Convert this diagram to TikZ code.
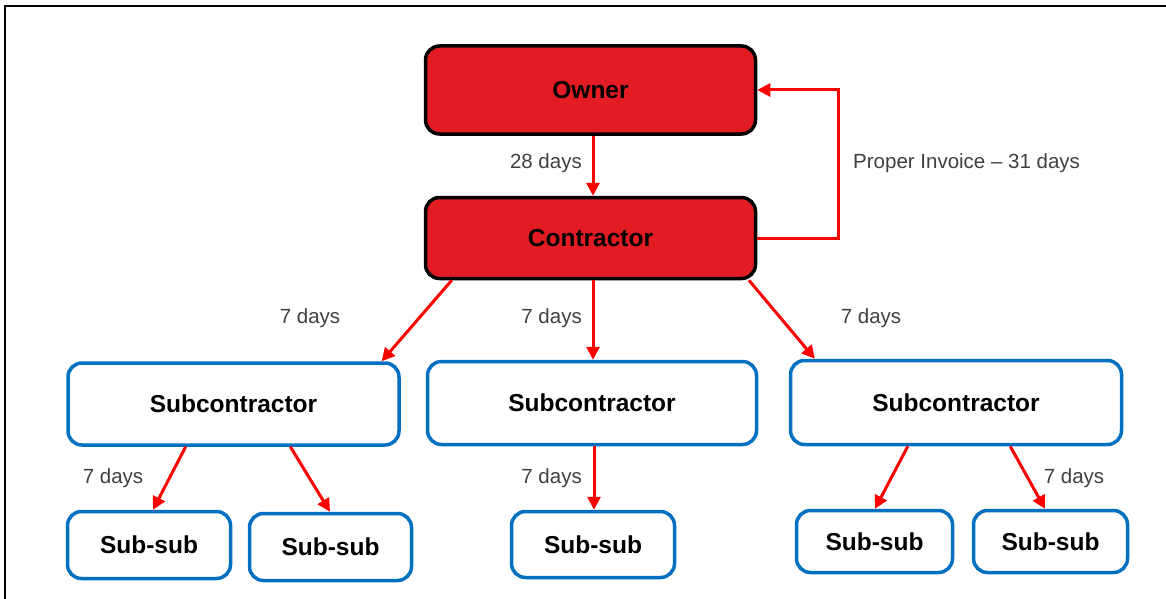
\documentclass[tikz,border=0pt]{standalone}
\usepackage{fontspec}
\setmainfont{Liberation Sans}
\usetikzlibrary{arrows.meta,calc}
\definecolor{boxred}{RGB}{227,28,36}
\definecolor{boxblue}{RGB}{0,112,192}
\definecolor{arrred}{RGB}{255,0,0}
\definecolor{labgray}{RGB}{64,64,64}
\tikzset{
  topbox/.style={draw=black, fill=boxred, line width=3.5pt, rounded corners=14pt,
    inner sep=0pt, font=\fontsize{24.5}{28}\selectfont\bfseries},
  subbox/.style={draw=boxblue, fill=white, line width=3.5pt, rounded corners=14pt,
    inner sep=0pt, font=\fontsize{24.5}{28}\selectfont\bfseries},
  arr/.style={draw=arrred, line width=3pt, -{Triangle[length=13pt,width=13pt]}},
  lab/.style={text=labgray, inner sep=0pt, font=\fontsize{20.5}{24}\selectfont}
}
\begin{document}
\begin{tikzpicture}[x=1pt,y=-1pt]
\useasboundingbox (0,0) rectangle (1166,599);
\draw[line width=1.5pt] (5,599) -- (5,6) -- (1166,6);

\node[topbox, minimum width=330pt, minimum height=88pt] (own) at (590.5,90) {Owner};
\node[topbox, minimum width=330pt, minimum height=81pt] (con) at (590.5,238) {Contractor};

\node[subbox, minimum width=331pt, minimum height=82pt] (s1) at (233.5,404) {Subcontractor};
\node[subbox, minimum width=329pt, minimum height=83pt] (s2) at (592,403) {Subcontractor};
\node[subbox, minimum width=331pt, minimum height=84pt] (s3) at (956,402.5) {Subcontractor};

\node[subbox, minimum width=163pt, minimum height=67pt] (u1) at (149,545) {Sub-sub};
\node[subbox, minimum width=162pt, minimum height=67pt] (u2) at (330.5,547) {Sub-sub};
\node[subbox, minimum width=163pt, minimum height=66pt] (u3) at (593,544.5) {Sub-sub};
\node[subbox, minimum width=156pt, minimum height=62pt] (u4) at (874.5,541.5) {Sub-sub};
\node[subbox, minimum width=154pt, minimum height=62pt] (u5) at (1050.5,541.5) {Sub-sub};

% owner -> contractor
\draw[arr] ($(own.south)+(2.5,0)$) -- ($(con.north)+(2.5,0)$);
\node[lab, anchor=east] (l28) at (582,163) {28 days};

% invoice loop
\draw[arr, rounded corners=0pt] (con.east) -- ++(81,0) coordinate (loop) |- (own.east);
\node[lab, anchor=west] (linv) at (853,163) {Proper Invoice – 31 days};

% contractor -> subcontractors
\draw[arr] ($(con.south west)!0.084!(con.south east)$) -- ($(s1.north west)!0.943!(s1.north east)$);
\draw[arr] ($(con.south)+(2.5,0)$) -- ($(s2.north)+(1,0)$);
\draw[arr] ($(con.south west)!0.975!(con.south east)$) -- ($(s3.north west)!0.078!(s3.north east)$);
\node[lab] (l7a) at (310,318) {7 days};
\node[lab, anchor=east] (l7b) at (582,318) {7 days};
\node[lab] (l7c) at (871,318) {7 days};

% subcontractors -> sub-subs
\draw[arr] ($(s1.south west)!0.357!(s1.south east)$) -- ($(u1.north west)!0.524!(u1.north east)$);
\draw[arr] ($(s1.south west)!0.67!(s1.south east)$) -- ($(u2.north west)!0.497!(u2.north east)$);
\draw[arr] ($(s2.south)+(2,0)$) -- ($(u3.north)+(1,0)$);
\draw[arr] ($(s3.south west)!0.356!(s3.south east)$) -- ($(u4.north west)!0.503!(u4.north east)$);
\draw[arr] ($(s3.south west)!0.662!(s3.south east)$) -- ($(u5.north west)!0.465!(u5.north east)$);
\node[lab] (l7d) at (113,478) {7 days};
\node[lab, anchor=east] (l7e) at (582,478) {7 days};
\node[lab] (l7f) at (1074,478) {7 days};
\end{tikzpicture}
\end{document}
